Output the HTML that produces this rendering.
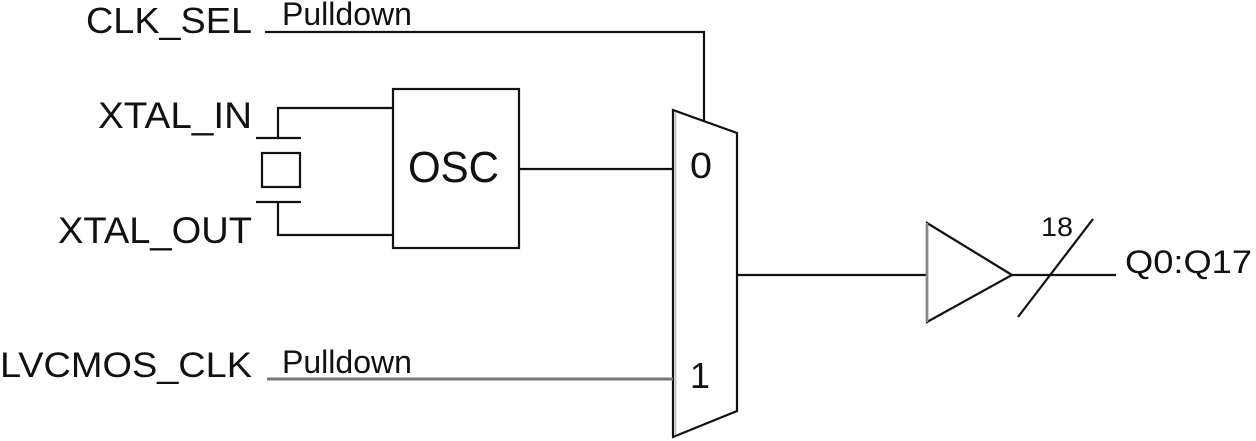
<!DOCTYPE html>
<html>
<head>
<meta charset="utf-8">
<style>
html,body{margin:0;padding:0;background:#fff;}
svg{display:block;}
text{font-family:"Liberation Sans",Arial,sans-serif;fill:#111;}
</style>
</head>
<body>
<svg width="1256" height="441" viewBox="0 0 1256 441" xmlns="http://www.w3.org/2000/svg">
  <g fill="none" stroke="#111" stroke-width="2.2" stroke-linecap="butt">
    <!-- CLK_SEL wire -->
    <polyline points="265,32 704,32 704,121"/>
    <!-- XTAL_IN wire -->
    <polyline points="393,108 278,108 278,139"/>
    <line x1="256" y1="138" x2="301" y2="138"/>
    <rect x="262" y="153" width="38" height="34"/>
    <line x1="256" y1="202" x2="301" y2="202"/>
    <polyline points="278,201 278,235 393,235"/>
    <!-- OSC box -->
    <rect x="393" y="89" width="126" height="159"/>
    <!-- OSC to mux -->
    <line x1="519" y1="169" x2="673" y2="169"/>
    <!-- Mux -->
    <polygon points="673,110 737,133 737,411 673,437"/>
    <!-- mux output -->
    <line x1="737" y1="275" x2="927" y2="275"/>
    <!-- buffer -->
    <polygon points="927,223 1012,275 927,322"/>
    <line x1="1012" y1="275" x2="1116" y2="275"/>
    <!-- bus slash -->
    <line x1="1018" y1="317" x2="1093" y2="219"/>
  </g>
  <!-- gray accents -->
  <line x1="675.5" y1="112" x2="675.5" y2="435" stroke="#bbb" stroke-width="1.5"/>
  <line x1="927" y1="223" x2="927" y2="322" stroke="#888" stroke-width="2.5"/>
  <!-- LVCMOS wire -->
  <line x1="267" y1="379" x2="673" y2="379" stroke="#777" stroke-width="3"/>

  <!-- Labels -->
  <text x="86" y="33" font-size="36" textLength="166" lengthAdjust="spacingAndGlyphs">CLK_SEL</text>
  <text x="282" y="25" font-size="32" textLength="130" lengthAdjust="spacingAndGlyphs">Pulldown</text>
  <text x="98" y="128" font-size="37" textLength="154" lengthAdjust="spacingAndGlyphs">XTAL_IN</text>
  <text x="58" y="243" font-size="37" textLength="194" lengthAdjust="spacingAndGlyphs">XTAL_OUT</text>
  <text x="0" y="377" font-size="35" textLength="252" lengthAdjust="spacingAndGlyphs">LVCMOS_CLK</text>
  <text x="282" y="373" font-size="32" textLength="130" lengthAdjust="spacingAndGlyphs">Pulldown</text>
  <text x="408" y="182" font-size="44" textLength="91" lengthAdjust="spacingAndGlyphs">OSC</text>
  <text x="690" y="178" font-size="36" textLength="22" lengthAdjust="spacingAndGlyphs">0</text>
  <text x="690" y="388" font-size="36" textLength="20" lengthAdjust="spacingAndGlyphs">1</text>
  <text x="1041" y="236" font-size="27" textLength="32" lengthAdjust="spacingAndGlyphs">18</text>
  <text x="1125" y="273" font-size="32" textLength="127" lengthAdjust="spacingAndGlyphs">Q0:Q17</text>
</svg>
</body>
</html>
